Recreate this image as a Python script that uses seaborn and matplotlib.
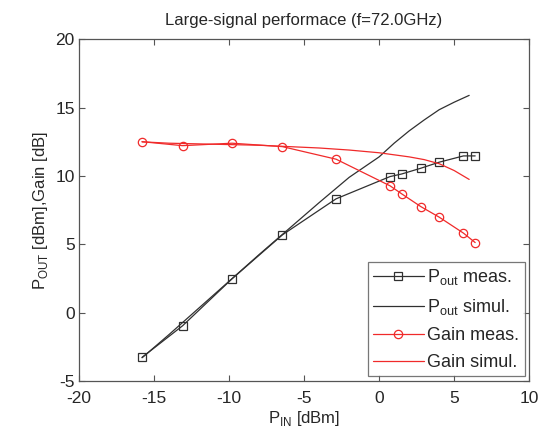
import matplotlib
matplotlib.use('Agg')

import matplotlib.pyplot as plt
import seaborn as sns
import pandas as pd

# measured points
pin_meas = [-15.8, -13.1, -9.8, -6.45, -2.87, 0.73, 1.51, 2.78, 4.0, 5.62, 6.4]
pout_meas = [-3.27, -0.96, 2.48, 5.69, 8.33, 9.96, 10.15, 10.57, 11.01, 11.47, 11.47]
gain_meas = [12.51, 12.22, 12.40, 12.15, 11.23, 9.28, 8.69, 7.76, 6.99, 5.82, 5.13]

# simulation curves
pin_sim = [-15.8, -14, -12, -10, -8, -6, -4, -2, 0, 1, 2, 3, 4, 5, 6]
pout_sim = [-3.3, -1.6, 0.35, 2.3, 4.25, 6.15, 8.05, 9.9, 11.4, 12.4, 13.3, 14.1, 14.85, 15.4, 15.9]
gain_sim = [12.5, 12.4, 12.35, 12.3, 12.25, 12.15, 12.05, 11.9, 11.7, 11.55, 11.4, 11.2, 10.9, 10.4, 9.75]

sns.set_style("ticks")
plt.rcParams['font.family'] = ['Liberation Sans', 'DejaVu Sans']
plt.rcParams['mathtext.fontset'] = 'custom'
plt.rcParams['mathtext.rm'] = 'Liberation Sans'
plt.rcParams['axes.unicode_minus'] = False

meas = pd.DataFrame({"pin": pin_meas, "pout": pout_meas, "gain": gain_meas})
sim = pd.DataFrame({"pin": pin_sim, "pout": pout_sim, "gain": gain_sim})

fig = plt.figure(figsize=(5.45, 4.42), dpi=100)
ax = fig.add_axes([0.145, 0.138, 0.826, 0.773])

black = '#303030'
red = '#f02a2a'

sns.lineplot(data=meas, x="pin", y="pout", ax=ax, color=black, lw=0.9,
             marker='s', markersize=6, markerfacecolor='none',
             markeredgecolor=black, markeredgewidth=0.9,
             label=r"P$_{\mathregular{out}}$ meas.")
sns.lineplot(data=sim, x="pin", y="pout", ax=ax, color=black, lw=0.9,
             label=r"P$_{\mathregular{out}}$ simul.")
sns.lineplot(data=meas, x="pin", y="gain", ax=ax, color=red, lw=0.9,
             marker='o', markersize=6, markerfacecolor='none',
             markeredgecolor=red, markeredgewidth=0.9,
             label="Gain meas.")
sns.lineplot(data=sim, x="pin", y="gain", ax=ax, color=red, lw=0.9,
             label="Gain simul.")

ax.set_xlim(-20, 10)
ax.set_ylim(-5, 20)
ax.set_xticks([-20, -15, -10, -5, 0, 5, 10])
ax.set_yticks([-5, 0, 5, 10, 15, 20])
ax.tick_params(direction='in', top=True, right=True, labelsize=12.5,
               length=4, width=0.8, color='#555555', pad=3)
ax.tick_params(axis='x', pad=7)
for s in ax.spines.values():
    s.set_color('#555555')
    s.set_linewidth(0.9)

ax.set_title("Large-signal performace (f=72.0GHz)", fontsize=12, pad=10)
ax.set_xlabel(r"P$_{\mathregular{IN}}$ [dBm]", fontsize=12, labelpad=2)
ax.set_ylabel(r"P$_{\mathregular{OUT}}$ [dBm],Gain [dB]", fontsize=12, labelpad=4)

leg = ax.legend(loc='lower right', fontsize=13, frameon=True, fancybox=False,
                edgecolor='#555555', handlelength=2.8, handletextpad=0.2,
                borderpad=0.3, labelspacing=0.55, borderaxespad=0.25)
leg.get_frame().set_linewidth(0.9)

fig.savefig("out.png", dpi=100)
